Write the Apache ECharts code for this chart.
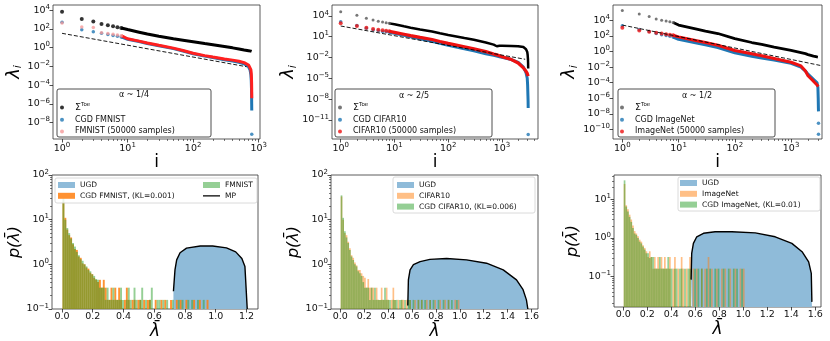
<!DOCTYPE html>
<html>
<head>
<meta charset="utf-8">
<script src="https://cdn.jsdelivr.net/npm/echarts@6/dist/echarts.min.js"></script>
<style>
  html, body { margin: 0; padding: 0; background: #fff; }
  #chart { width: 830px; height: 341px; }
</style>
</head>
<body>
<div id="chart"></div>
<script>
// ---------- top row: eigen spectra, values are log10(lambda_i) ----------
const fmIdx = [1, 2, 3, 4, 5, 6, 7, 8, 10, 15, 20, 30, 50, 70, 100, 150, 200, 300, 400, 500, 600, 700, 740, 760, 770, 776, 780, 782, 783, 784]
const fmToeLog = [3.84, 3.06, 2.78, 2.53, 2.39, 2.28, 2.18, 2.10, 1.93, 1.65, 1.45, 1.22, 0.95, 0.80, 0.64, 0.44, 0.32, 0.12, -0.02, -0.14, -0.24, -0.32, -0.35, -0.37, -0.38, -0.39, -0.40, -0.40, -0.41, -0.42]
const fmCgdLog = [2.70, 1.90, 1.70, 1.55, 1.40, 1.30, 1.22, 1.15, 0.90, 0.65, 0.45, 0.20, -0.10, -0.35, -0.65, -0.90, -1.05, -1.28, -1.42, -1.55, -1.72, -2.05, -2.40, -2.90, -3.50, -4.30, -5.20, -6.00, -6.40, -6.70]
const fmRealLog = [2.62, 2.20, 2.15, 1.60, 1.50, 1.42, 1.35, 1.28, 0.95, 0.70, 0.50, 0.25, -0.05, -0.30, -0.60, -0.85, -1.00, -1.20, -1.33, -1.45, -1.60, -1.85, -2.05, -2.35, -2.70, -3.20, -3.80, -4.30, -4.80, -5.40]
const fmCgdOutIdx = [784]
const fmCgdOutLog = [-9.24]
const fmFitIdx = [1, 650]
const fmFitLog = [1.53, -2.03]

const cfIdx = [1, 2, 3, 4, 5, 6, 7, 8, 10, 15, 20, 30, 50, 70, 100, 200, 300, 500, 700, 800, 900, 1000, 1500, 2000, 2500, 2800, 2950, 3000, 3040, 3060, 3072]
const cfToeLog = [4.60, 4.09, 3.65, 3.41, 3.22, 3.10, 3.00, 2.92, 2.79, 2.50, 2.30, 2.05, 1.75, 1.50, 1.25, 0.80, 0.55, 0.15, -0.15, -0.38, -0.30, -0.30, -0.33, -0.37, -0.50, -0.80, -1.20, -1.60, -2.20, -2.80, -3.60]
const cfCgdLog = [3.16, 2.60, 2.20, 1.95, 1.85, 1.75, 1.70, 1.65, 1.50, 1.20, 1.00, 0.70, 0.35, 0.05, -0.25, -0.75, -1.05, -1.45, -1.70, -1.80, -1.90, -1.97, -2.30, -2.70, -3.40, -4.20, -5.00, -6.00, -7.50, -8.30, -9.30]
const cfRealLog = [2.93, 2.54, 2.30, 2.10, 2.00, 1.92, 1.85, 1.78, 1.63, 1.35, 1.15, 0.90, 0.60, 0.30, 0.04, -0.45, -0.75, -1.15, -1.50, -1.62, -1.75, -1.89, -2.30, -2.80, -3.50, -4.00, -4.30, -4.45, -4.60, -4.70, -4.80]
const cfCgdOutIdx = [3072]
const cfCgdOutLog = [-13.1]
const cfFitIdx = [1, 2700]
const cfFitLog = [2.54, -2.26]

const inIdx = [1, 2, 3, 4, 5, 6, 7, 8, 10, 20, 30, 50, 100, 200, 300, 500, 1000, 1500, 1800, 2000, 2500, 2900, 3000, 3040, 3060, 3072]
const inToeLog = [5.25, 4.80, 4.47, 4.16, 4.00, 3.90, 3.80, 3.70, 3.38, 2.90, 2.60, 2.30, 1.65, 1.15, 0.90, 0.55, 0.13, -0.15, -0.28, -0.40, -0.60, -0.70, -0.72, -0.73, -0.73, -0.74]
const inCgdLog = [3.30, 2.82, 2.55, 2.30, 2.15, 2.05, 1.95, 1.85, 1.56, 1.10, 0.85, 0.50, -0.17, -0.60, -0.85, -1.10, -1.51, -2.00, -2.50, -2.90, -3.55, -4.00, -4.60, -6.00, -7.20, -7.66]
const inRealLog = [3.04, 2.69, 2.52, 2.39, 2.30, 2.22, 2.15, 2.08, 1.87, 1.40, 1.15, 0.80, 0.13, -0.30, -0.55, -0.90, -1.38, -1.85, -2.50, -3.10, -3.80, -4.30, -4.40, -4.45, -4.48, -4.50]
const inCgdOutIdx = [3072, 3072]
const inCgdOutLog = [-9.2, -10.6]
const inFitIdx = [1, 3500]
const inFitLog = [3.38, -1.82]

// ---------- bottom row: densities p(lambda) ----------
// Marchenko-Pastur curve points [lambda, density]
const fmMP = [[0.725, 0.25], [0.735, 0.75], [0.746, 1.26], [0.768, 1.82], [0.81, 2.3], [0.9, 2.57], [0.98, 2.57], [1.07, 2.34], [1.13, 1.9], [1.17, 1.35], [1.19, 0.89], [1.205, 0.1]]
const cfMP = [[0.565, 0.12], [0.57, 0.45], [0.584, 0.75], [0.612, 0.98], [0.668, 1.15], [0.75, 1.29], [0.89, 1.35], [1.057, 1.26], [1.224, 1.06], [1.364, 0.75], [1.475, 0.45], [1.53, 0.27], [1.558, 0.16], [1.57, 0.1]]
const inMP = [[0.565, 0.083], [0.57, 0.4], [0.584, 0.72], [0.612, 1.07], [0.668, 1.32], [0.765, 1.45], [0.905, 1.45], [1.1, 1.35], [1.266, 1.07], [1.405, 0.72], [1.49, 0.44], [1.545, 0.24], [1.567, 0.12], [1.572, 0.022]]

// histogram bar heights, consecutive bins
const fmBinLo = 0.003, fmBinW = 0.0125
const fmCgdHist = [25, 11, 6, 4.5, 4, 2.8, 2.2, 2.1, 1.5, 1.4, 1.05, 1.0, 0.85, 0.8, 0.65, 0.6, 0.5, 0.45, 0.4, 0.45, 0.3, 0.45, 0.3, 0.16, 0.16, 0.3, 0.16, 0.3, 0.16, 0.3, 0.16, 0, 0.16, 0.3, 0.16, 0, 0.16, 0.16, 0, 0.16, 0.16, 0, 0.16, 0, 0.16, 0.16, 0, 0, 0.16, 0, 0, 0.16, 0, 0.16, 0, 0, 0.16, 0, 0, 0.16, 0, 0.16, 0, 0, 0.16, 0, 0, 0, 0.16, 0, 0, 0.16, 0, 0, 0, 0.16]
const fmRealHist = [30, 10, 6.5, 5, 3.8, 3.0, 2.5, 1.9, 1.6, 1.3, 1.2, 1.0, 0.9, 0.75, 0.7, 0.6, 0.55, 0.47, 0.45, 0.3, 0.3, 0.3, 0.16, 0.3, 0.16, 0.16, 0.3, 0.16, 0.16, 0.16, 0.3, 0.16, 0, 0.16, 0.3, 0.16, 0, 0.3, 0.16, 0, 0.16, 0.3, 0, 0.16, 0, 0.16, 0.3, 0, 0, 0.16, 0.16, 0, 0.16, 0, 0.16, 0, 0, 0.16, 0, 0, 0.16, 0, 0.16, 0, 0, 0.16, 0, 0.16, 0, 0, 0.16, 0, 0, 0.16]

const cfBinLo = 0.003, cfBinW = 0.014
const cfRealHist = [33, 10, 5, 4.5, 3.2, 2.3, 1.6, 1.4, 1.1, 0.95, 0.75, 0.75, 0.63, 0.55, 0.5, 0.3, 0.47, 0.3, 0.3, 0.3, 0.16, 0.3, 0.16, 0.16, 0.3, 0.16, 0.16, 0.3, 0.16, 0, 0.16, 0.3, 0.16, 0, 0.16, 0, 0.16, 0.16, 0, 0.16, 0, 0.16, 0, 0, 0.16, 0, 0.16, 0, 0.16, 0, 0, 0.16, 0, 0.16, 0, 0, 0.16, 0, 0, 0.16, 0, 0, 0.16, 0, 0.16, 0, 0, 0, 0.16, 0, 0.16]
const cfCgdHist = [35, 11, 5.5, 4, 3, 2.1, 1.5, 1.25, 1.0, 0.9, 0.7, 0.63, 0.55, 0.4, 0.3, 0.3, 0.3, 0.16, 0.3, 0.16, 0.3, 0.16, 0.16, 0.16, 0.16, 0.16, 0.3, 0.16, 0.16, 0.16, 0, 0.16, 0.16, 0.16, 0, 0.16, 0.16, 0, 0.16, 0, 0.16, 0.16, 0, 0.16, 0, 0, 0.16, 0, 0.16, 0, 0.16, 0, 0, 0.16, 0, 0.16, 0, 0, 0.16, 0, 0, 0.16, 0, 0, 0.16, 0, 0.16, 0, 0, 0.16]

const inBinLo = 0.003, inBinW = 0.014
const inRealHist = [25, 7, 5.5, 4, 3, 2.1, 1.5, 1.3, 1.1, 0.9, 0.8, 0.65, 0.55, 0.45, 0.32, 0.45, 0.32, 0.16, 0.32, 0.16, 0.32, 0.16, 0.32, 0.16, 0.32, 0.16, 0.16, 0.32, 0, 0.16, 0.32, 0, 0.16, 0, 0.32, 0.16, 0, 0.16, 0, 0.32, 0, 0.16, 0, 0.16, 0, 0, 0.16, 0, 0.16, 0, 0.32, 0, 0.16, 0, 0, 0.16, 0, 0, 0.16, 0, 0.16, 0, 0, 0.16, 0, 0, 0.16, 0, 0, 0.16, 0, 0.16]
const inCgdHist = [31, 6.5, 4.8, 3.5, 2.6, 1.8, 1.3, 1.2, 1.0, 0.8, 0.72, 0.6, 0.5, 0.4, 0.4, 0.3, 0.32, 0.32, 0.16, 0.16, 0.16, 0.32, 0.16, 0.16, 0.16, 0.16, 0.32, 0.16, 0.16, 0, 0.16, 0.16, 0, 0.16, 0.16, 0, 0.16, 0, 0.16, 0.16, 0, 0, 0.16, 0, 0.16, 0, 0.16, 0, 0, 0.16, 0, 0.16, 0, 0, 0.16, 0, 0.16, 0, 0, 0.16, 0, 0, 0.16, 0, 0, 0.16, 0, 0.16, 0, 0, 0.16]

// ticks (exponents for log axes)
const topXTicks = [0, 1, 2, 3]
const fmYTicks = [-8, -6, -4, -2, 0, 2, 4]
const cfYTicks = [-11, -8, -5, -2, 1, 4]
const inYTicks = [-10, -8, -6, -4, -2, 0, 2, 4]
const b12YTicks = [-1, 0, 1, 2]
const b3YTicks = [-1, 0, 1]
const fmLamTicks = [0, 0.2, 0.4, 0.6, 0.8, 1.0, 1.2]
const lamTicks = [0, 0.2, 0.4, 0.6, 0.8, 1.0, 1.2, 1.4, 1.6]
const minorMult = [2, 3, 4, 5, 6, 7, 8, 9]

// ---------------------------------------------------------------
const FONT = 'DejaVu Sans'
const BLUE = '#1f77b4'
const C_UGD = '#8fbbd9'
const supRich = { s: { fontSize: 7, fontFamily: FONT, color: '#111', padding: [0, 0, 6, 0] } }

function powLabel(v) {
  const e = Math.round(v)
  return '10{s|' + (e < 0 ? '\u2212' + (-e) : e) + '}'
}
function minorTicks(lo, hi) {
  const out = []
  for (let e = lo; e <= hi; e++) minorMult.forEach(m => out.push(e + Math.log10(m)))
  return out
}

const grids = [
  { left: 53, top: 5, width: 207, height: 134 },
  { left: 332, top: 5, width: 206, height: 134 },
  { left: 613, top: 5, width: 209, height: 134 },
  { left: 52, top: 175, width: 206, height: 134 },
  { left: 331, top: 175, width: 207, height: 134 },
  { left: 614, top: 175, width: 207, height: 132 }
].map(g => Object.assign(g, { show: true, borderColor: '#333', borderWidth: 0.8 }))

function axis(gi, min, max, ticks, fmt, extra) {
  return Object.assign({
    type: 'value', gridIndex: gi, min, max,
    axisLine: { show: false, onZero: false },
    splitLine: { show: false },
    axisTick: { show: true, length: 3.5, lineStyle: { color: '#222', width: 0.8 }, customValues: ticks },
    axisLabel: { customValues: ticks, formatter: fmt, fontFamily: FONT, fontSize: 9.5, color: '#111', margin: 3, rich: supRich }
  }, extra || {})
}
// tick-only axis for the short log minor ticks
function minorAxis(gi, min, max, ticks, pos) {
  return {
    type: 'value', gridIndex: gi, min, max, position: pos,
    axisLine: { show: false, onZero: false }, splitLine: { show: false },
    axisTick: { show: true, length: 2, lineStyle: { color: '#222', width: 0.6 }, customValues: ticks },
    axisLabel: { show: false }
  }
}

const nameX = (txt, gap, italic) => ({ name: txt, nameLocation: 'middle', nameGap: gap,
  nameTextStyle: { fontFamily: FONT, fontSize: 17, color: '#000', fontStyle: italic ? 'italic' : 'normal' } })
const nameY = (gap) => ({
  name: 'λ{b|i}', nameLocation: 'middle', nameGap: gap, nameRotate: 90,
  nameTextStyle: { fontFamily: FONT, fontSize: 18, color: '#000', fontStyle: 'italic', rich: { b: { fontSize: 11, fontFamily: FONT, fontStyle: 'italic', padding: [8, 0, 0, 0] } } }
})
const nameP = (gap) => ({ name: 'p(λ̄)', nameLocation: 'middle', nameGap: gap, nameRotate: 90, nameTextStyle: { fontFamily: FONT, fontSize: 16, color: '#000', fontStyle: 'italic' } })

const fmtLam = v => v.toFixed(1)

const xAxes = [
  axis(0, -0.138, 3.02, topXTicks, powLabel, nameX('i', 8, false)),
  axis(1, -0.162, 3.67, topXTicks, powLabel, nameX('i', 8, false)),
  axis(2, -0.166, 3.55, topXTicks, powLabel, nameX('i', 8, false)),
  axis(3, -0.065, 1.275, fmLamTicks, fmtLam, nameX('λ̄', 6, true)),
  axis(4, -0.078, 1.655, lamTicks, fmtLam, nameX('λ̄', 6, true)),
  axis(5, -0.078, 1.648, lamTicks, fmtLam, nameX('λ̄', 6, true)),
  minorAxis(0, -0.138, 3.02, minorTicks(0, 3), 'bottom'),
  minorAxis(1, -0.162, 3.67, minorTicks(0, 3), 'bottom'),
  minorAxis(2, -0.166, 3.55, minorTicks(0, 3), 'bottom')
]
const yAxes = [
  axis(0, -9.74, 4.55, fmYTicks, powLabel, nameY(29)),
  axis(1, -13.76, 5.57, cfYTicks, powLabel, nameY(33)),
  axis(2, -11.2, 5.95, inYTicks, powLabel, nameY(33)),
  axis(3, -1, 2, b12YTicks, powLabel, nameP(28)),
  axis(4, -1, 2, b12YTicks, powLabel, nameP(28)),
  axis(5, -1.79, 1.63, b3YTicks, powLabel, nameP(33)),
  minorAxis(3, -1, 2, minorTicks(-1, 1), 'left'),
  minorAxis(4, -1, 2, minorTicks(-1, 1), 'left'),
  minorAxis(5, -1.79, 1.63, minorTicks(-2, 1), 'left')
]

// separate dots for the first few indices, a thick line where the points merge
function spectrum(gi, name, idx, logv, o) {
  const pts = idx.map((v, k) => [Math.log10(v), logv[k]])
  const cut = Math.log10(8) + 1e-9
  return [
    { type: 'scatter', name, xAxisIndex: gi, yAxisIndex: gi, data: pts.filter(p => p[0] <= cut),
      symbolSize: o.dot, itemStyle: { color: o.dotColor || o.color }, z: o.z },
    { type: 'line', name, xAxisIndex: gi, yAxisIndex: gi, data: pts.filter(p => p[0] >= cut - 2e-9),
      symbol: 'none', lineStyle: { color: o.color, width: o.width }, z: o.z }
  ]
}
function points(gi, name, idx, logv, color, size, z) {
  return { type: 'scatter', name, xAxisIndex: gi, yAxisIndex: gi, data: idx.map((v, k) => [Math.log10(v), logv[k]]),
    symbolSize: size, itemStyle: { color }, z }
}
function fit(gi, idx, logv) {
  return { type: 'line', name: 'fit' + gi, xAxisIndex: gi, yAxisIndex: gi, data: idx.map((v, k) => [Math.log10(v), logv[k]]),
    symbol: 'none', lineStyle: { color: '#000', width: 0.9, type: [4, 2] }, z: 9 }
}
function hist(gi, name, lo, w, dens, color, base, z) {
  const data = []
  dens.forEach((d, k) => { if (d > 0) data.push([lo + k * w, lo + (k + 1) * w, Math.log10(d)]) })
  return {
    type: 'custom', name, xAxisIndex: gi, yAxisIndex: gi, z, data,
    itemStyle: { color }, encode: { x: [0, 1], y: 2 },
    renderItem: (params, api) => {
      const a = api.coord([api.value(0), api.value(2)])
      const b = api.coord([api.value(1), base])
      return { type: 'rect', shape: { x: a[0], y: a[1], width: b[0] - a[0], height: b[1] - a[1] }, style: { fill: color } }
    }
  }
}
function ugd(gi, mp) {
  return { type: 'line', name: 'UGD', xAxisIndex: gi, yAxisIndex: gi, data: mp.map(p => [p[0], Math.log10(p[1])]),
    symbol: 'none', lineStyle: { width: 0 }, itemStyle: { color: C_UGD }, areaStyle: { color: C_UGD, opacity: 1, origin: 'start' }, z: 2 }
}
function mpLine(gi, name, mp) {
  return { type: 'line', name, xAxisIndex: gi, yAxisIndex: gi, data: mp.map(p => [p[0], Math.log10(p[1])]),
    symbol: 'none', lineStyle: { color: '#000', width: 1.4 }, itemStyle: { color: '#000' }, z: 8 }
}

const ORANGE_S = 'rgba(255,127,14,0.85)'
const ORANGE_L = 'rgba(255,127,14,0.5)'
const GREEN_L = 'rgba(44,160,44,0.5)'

const series = [].concat(
  spectrum(0, 'ΣToe', fmIdx, fmToeLog, { color: '#000', dot: 4, width: 3, z: 3 }),
  spectrum(0, 'CGD FMNIST', fmIdx, fmCgdLog, { color: BLUE, dot: 3.5, width: 3, z: 4 }),
  [points(0, 'CGD FMNIST', fmCgdOutIdx, fmCgdOutLog, BLUE, 3.5, 4)],
  spectrum(0, 'FMNIST (50000 samples)', fmIdx, fmRealLog, { color: '#ff2020', dotColor: '#f59a9a', dot: 3.5, width: 3, z: 5 }),
  [fit(0, fmFitIdx, fmFitLog)],

  spectrum(1, 'ΣToe ', cfIdx, cfToeLog, { color: '#000', dotColor: '#555', dot: 3, width: 2.5, z: 3 }),
  spectrum(1, 'CGD CIFAR10', cfIdx, cfCgdLog, { color: BLUE, dot: 3.5, width: 3, z: 4 }),
  [points(1, 'CGD CIFAR10', cfCgdOutIdx, cfCgdOutLog, BLUE, 3.5, 4)],
  spectrum(1, 'CIFAR10 (50000 samples)', cfIdx, cfRealLog, { color: '#ee1111', dot: 4, width: 3.2, z: 5 }),
  [fit(1, cfFitIdx, cfFitLog)],

  spectrum(2, 'ΣToe  ', inIdx, inToeLog, { color: '#000', dotColor: '#555', dot: 3, width: 2.8, z: 3 }),
  spectrum(2, 'CGD ImageNet', inIdx, inCgdLog, { color: BLUE, dot: 3.5, width: 3, z: 4 }),
  [points(2, 'CGD ImageNet', inCgdOutIdx, inCgdOutLog, BLUE, 3.5, 4)],
  spectrum(2, 'ImageNet (50000 samples)', inIdx, inRealLog, { color: '#ee1111', dot: 4, width: 3, z: 5 }),
  [fit(2, inFitIdx, inFitLog)],

  [ugd(3, fmMP),
   hist(3, 'CGD FMNIST, (KL=0.001)', fmBinLo, fmBinW, fmCgdHist, ORANGE_S, -1, 3),
   hist(3, 'FMNIST', fmBinLo, fmBinW, fmRealHist, GREEN_L, -1, 4),
   mpLine(3, 'MP', fmMP)],

  [ugd(4, cfMP),
   hist(4, 'CIFAR10', cfBinLo, cfBinW, cfRealHist, ORANGE_L, -1, 3),
   hist(4, 'CGD CIFAR10, (KL=0.006)', cfBinLo, cfBinW, cfCgdHist, GREEN_L, -1, 4),
   mpLine(4, 'MP2', cfMP)],

  [ugd(5, inMP),
   hist(5, 'ImageNet', inBinLo, inBinW, inRealHist, ORANGE_L, -1.79, 3),
   hist(5, 'CGD ImageNet, (KL=0.01)', inBinLo, inBinW, inCgdHist, GREEN_L, -1.79, 4),
   mpLine(5, 'MP3', inMP)]
)

// legends
function legText(size) {
  return { fontFamily: FONT, fontSize: size, color: '#111', lineHeight: 10,
    rich: { m: { fontSize: 9.5, lineHeight: 10, fontFamily: FONT, color: '#111' },
            s: { fontSize: 5.5, lineHeight: 10, fontFamily: FONT, color: '#111', padding: [0, 0, 5, 0] } } }
}
const legFmt = n => n.startsWith('Σ') ? '{m|Σ}{s|Toe}' : n
function topLegend(left, top, names) {
  return { left, top, padding: 0, orient: 'vertical', itemWidth: 16, itemHeight: 4, itemGap: 1.7, selectedMode: false,
    icon: 'circle', textStyle: legText(8), formatter: legFmt, data: names, z: 6 }
}
function patch(name, color) { return { name, icon: 'rect', itemStyle: { color } } }
const LINE_ICON = 'path://M0,0 L0.01,0 L0.01,0.01 Z M0,2.4 L17,2.4 L17,3.6 L0,3.6 Z M0,6 L0.01,6 L0.01,5.99 Z'
function botLegend(left, top, data) {
  return { left, top, padding: 0, orient: 'vertical', itemWidth: 17, itemHeight: 6, itemGap: 0.8, selectedMode: false,
    textStyle: legText(7.5), data, z: 6 }
}
const legends = [
  topLegend(60, 102, ['ΣToe', 'CGD FMNIST', 'FMNIST (50000 samples)']),
  topLegend(338, 102, ['ΣToe ', 'CGD CIFAR10', 'CIFAR10 (50000 samples)']),
  topLegend(620, 102, ['ΣToe  ', 'CGD ImageNet', 'ImageNet (50000 samples)']),
  botLegend(58, 180, [patch('UGD', C_UGD), patch('CGD FMNIST, (KL=0.001)', ORANGE_S)]),
  botLegend(203, 180, [patch('FMNIST', GREEN_L), { name: 'MP', icon: LINE_ICON, itemStyle: { color: '#000' } }]),
  botLegend(397, 180, [patch('UGD', C_UGD), patch('CIFAR10', ORANGE_L), patch('CGD CIFAR10, (KL=0.006)', GREEN_L)]),
  botLegend(680, 178, [patch('UGD', C_UGD), patch('ImageNet', ORANGE_L), patch('CGD ImageNet, (KL=0.01)', GREEN_L)])
]

// legend frames and titles
function frame(x, y, w, h, dark) {
  return { type: 'rect', z: 5, shape: { x, y, width: w, height: h, r: 2 },
    style: { fill: dark ? '#fff' : 'rgba(255,255,255,0.8)', stroke: dark ? '#222' : '#d0d0d0', lineWidth: 0.8 } }
}
function ttl(x, y, text) {
  return { type: 'text', z: 7, x, y, style: { text, fontFamily: FONT, fontSize: 8, fill: '#111', align: 'center', verticalAlign: 'middle' } }
}
const graphic = [
  frame(57, 89, 154, 48, true), ttl(134, 95, 'α ~ 1/4'),
  frame(335, 89, 157, 48, true), ttl(414, 96, 'α ~ 2/5'),
  frame(618, 89, 157, 48, true), ttl(697, 96, 'α ~ 1/2'),
  frame(55, 178, 202, 25, false),
  frame(393, 177, 142, 36, false),
  frame(678, 177, 142, 34, false)
]

const chart = echarts.init(document.getElementById('chart'))
chart.setOption({
  animation: false,
  backgroundColor: '#fff',
  grid: grids,
  xAxis: xAxes,
  yAxis: yAxes,
  legend: legends,
  graphic,
  series
})
</script>
</body>
</html>
